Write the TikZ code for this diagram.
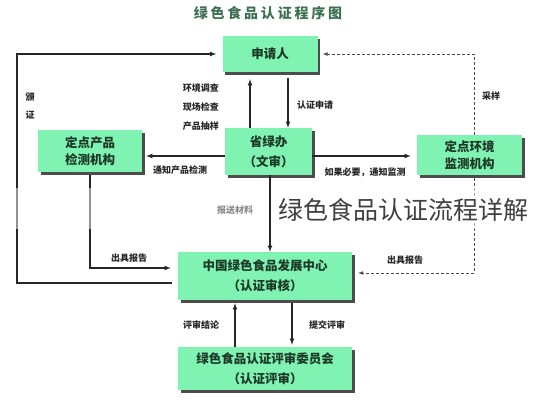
\documentclass[tikz,border=0pt]{standalone}
\usepackage{fontspec}
\setmainfont{Noto Sans CJK SC}
\usetikzlibrary{arrows.meta,shadows}
\definecolor{boxgreen}{RGB}{128,242,178}
\definecolor{boxtext}{RGB}{28,56,38}
\definecolor{titlegreen}{RGB}{62,112,82}
\tikzset{
  box/.style={fill=boxgreen, text=boxtext, align=center, inner sep=0pt,
    font=\fontsize{12.5}{20}\selectfont\bfseries,
    drop shadow={shadow xshift=2.5pt, shadow yshift=-3pt, fill=black!70, opacity=1}},
  lbl/.style={font=\fontsize{9}{10}\selectfont\bfseries, text=black!85, inner sep=1pt},
  conn/.style={-latex, line width=1.1pt, black!85},
  dconn/.style={-latex, line width=0.7pt, black!70, dash pattern=on 3pt off 2pt},
}
\begin{document}
\begin{tikzpicture}[x=1pt,y=-1pt]
        \useasboundingbox (0,0) rectangle (533,400);
        \node[font=\fontsize{14}{14}\selectfont\bfseries\addfontfeature{LetterSpace=20}, text=titlegreen] (title) at (268,13) {绿色食品认证程序图};
        \node[box, minimum width=95pt, minimum height=36pt] (apply) at (270,54) {申请人};
        \node[box, minimum width=87pt, minimum height=47pt] (office) at (268.5,151.5) {省绿办\\（文审）};
        \node[box, minimum width=104pt, minimum height=42pt, font=\fontsize{12.5}{17}\selectfont\bfseries] (prodlab) at (90,151) {定点产品\\检测机构};
        \node[box, minimum width=105pt, minimum height=40pt, font=\fontsize{12.5}{17}\selectfont\bfseries] (envlab) at (469.5,155) {定点环境\\监测机构};
        \node[box, minimum width=174pt, minimum height=48pt] (center) at (265,276) {中国绿色食品发展中心\\（认证审核）};
        \node[box, minimum width=174pt, minimum height=43pt] (committee) at (265,368.5) {绿色食品认证评审委员会\\（认证评审）};
        \draw[conn, shorten >=7pt] (250,0 |- office.north) -- (250,0 |- apply.south);
        \draw[conn, shorten <=6pt] (288,0 |- apply.south) -- (288,0 |- office.north);
        \draw[conn, shorten >=4pt] (office.west |- 0,156) -- (prodlab.east |- 0,156);
        \draw[conn, shorten >=6pt] (office.east |- 0,156) -- (envlab.west |- 0,156);
        \draw[conn, shorten <=3pt, shorten >=7pt] (prodlab.south) |- (center.west |- 0,268);
        \draw[conn, shorten <=6pt, shorten >=6pt] (center.west |- 0,283) -| (17,54) -- (apply.west);
        \draw[dconn, shorten >=5pt] (474,0 |- envlab.north) |- (apply.east);
        \draw[dconn, shorten <=3pt, shorten >=6pt] (474,0 |- envlab.south) |- (center.east |- 0,273);
        \draw[conn, shorten >=3pt] (235,0 |- committee.north) -- (235,0 |- center.south);
        \draw[conn, shorten <=3pt, shorten >=2pt] (292,0 |- center.south) -- (292,0 |- committee.north);
        \node[lbl, anchor=east] (l-env) at (220,88) {环境调查};
        \node[lbl, anchor=east] (l-site) at (220,107) {现场检查};
        \node[lbl, anchor=east] (l-sample) at (220,126) {产品抽样};
        \node[lbl, anchor=west] (l-apply) at (296,105) {认证申请};
        \node[lbl] (l-prod) at (180,170) {通知产品检测};
        \node[lbl] (l-env2) at (365,172) {如果必要，通知监测};
        \node[lbl] (l-rep1) at (129,258) {出具报告};
        \node[lbl] (l-rep2) at (405,260) {出具报告};
        \node[lbl] (l-take) at (491,96) {采样};
        \node[lbl, align=center, font=\fontsize{9}{18}\selectfont\bfseries] (l-cert) at (30,106) {颁\\证};
        \node[lbl] (l-concl) at (201,325) {评审结论};
        \node[lbl] (l-submit) at (327,325) {提交评审};
        \fill[white, opacity=0.5] (0,188) rectangle (533,229);
        \node[lbl, text=black!45] (l-send) at (235,210) {报送材料};
        \draw[conn] (270,0 |- office.south) -- (270,0 |- center.north);
        \node[font=\fontsize{25}{25}\selectfont, text=black!75, fill=white, inner sep=1pt] (wm) at (403,210) {绿色食品认证流程详解};
    \end{tikzpicture}
\end{document}
